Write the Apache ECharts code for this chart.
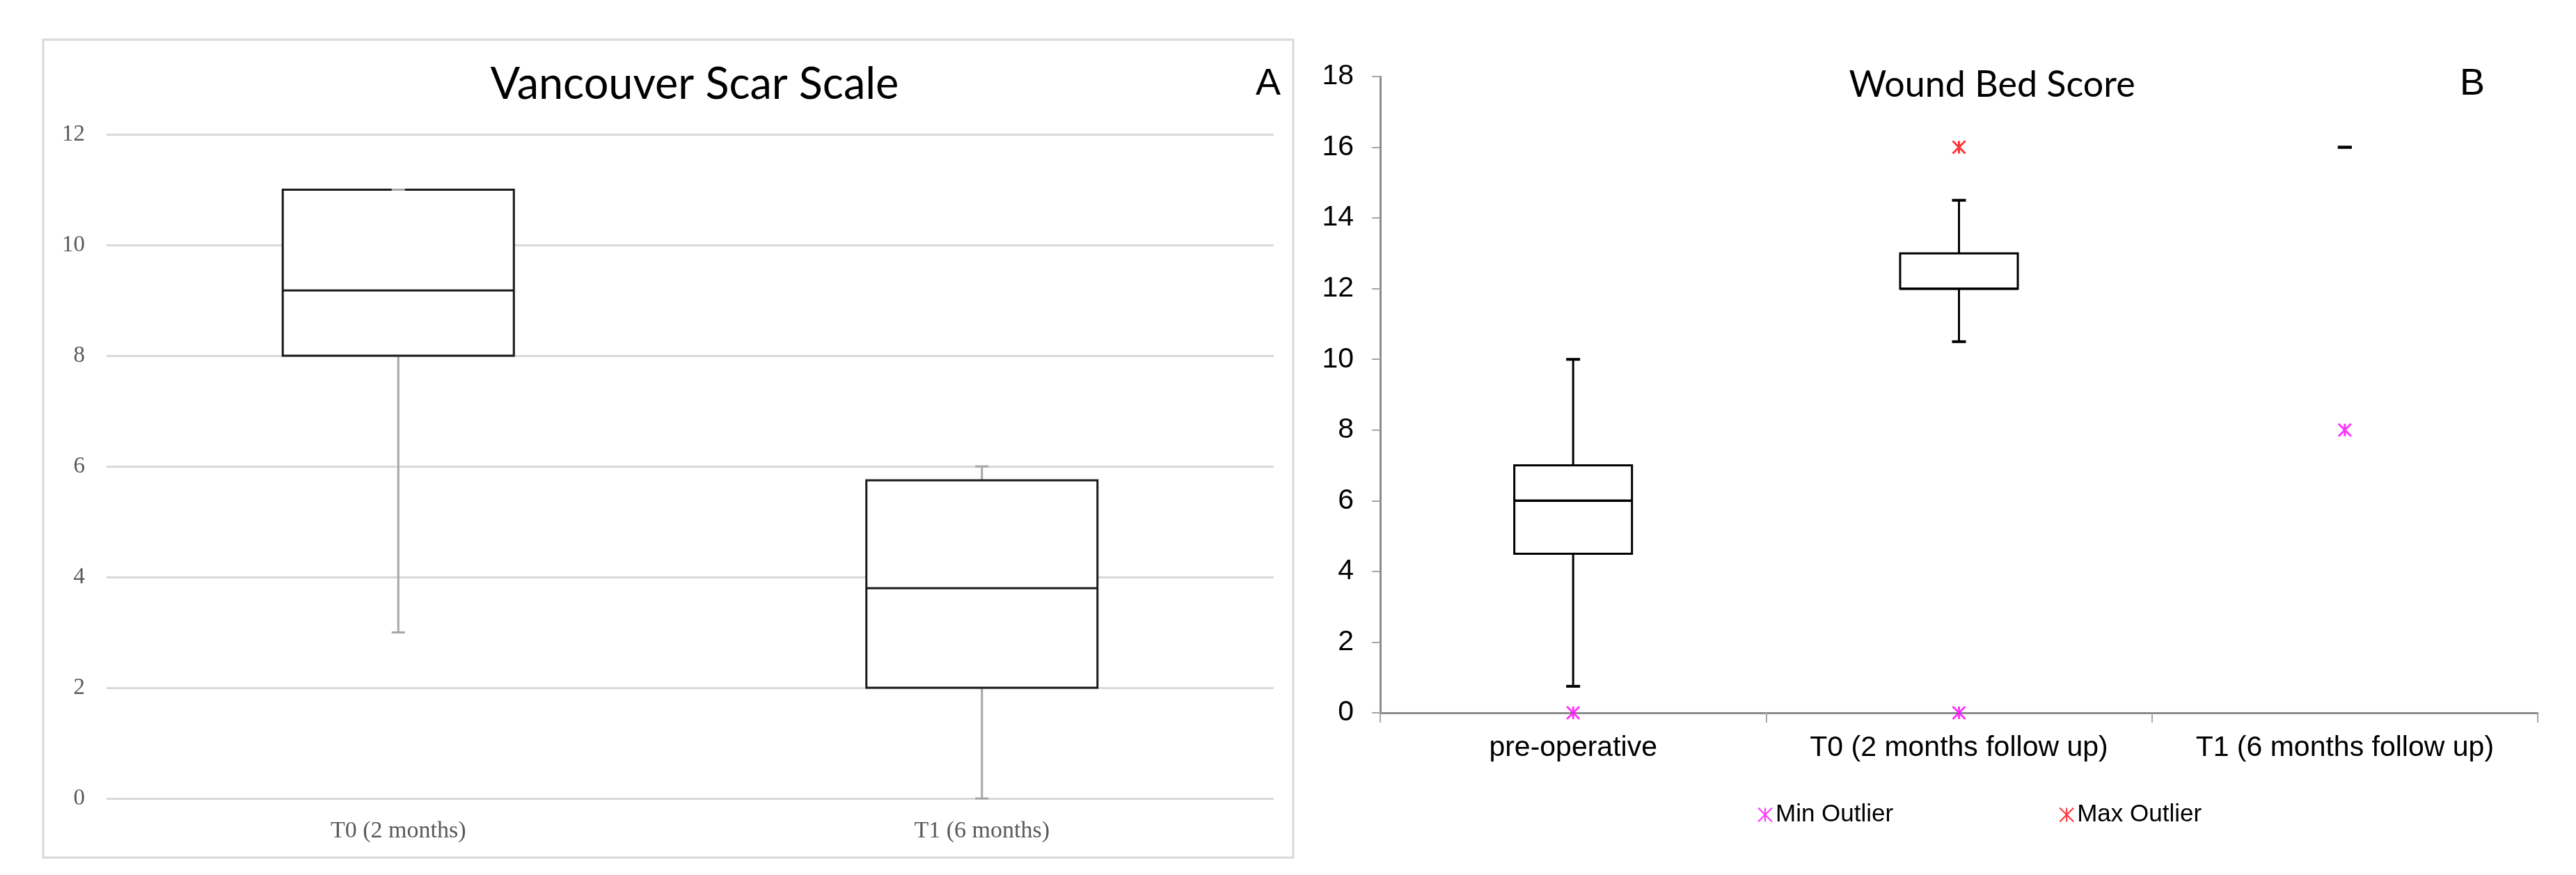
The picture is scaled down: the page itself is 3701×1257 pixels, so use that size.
<!DOCTYPE html>
<html>
<head>
<meta charset="utf-8">
<script src="https://cdn.jsdelivr.net/npm/echarts@6/dist/echarts.min.js"></script>
<style>
html,body{margin:0;padding:0;background:#ffffff;}
#chart{width:3701px;height:1257px;}
</style>
</head>
<body>
<div id="chart"></div>
<script>
// ---------- Panel A: Vancouver Scar Scale ----------
const vssCategories = ['T0 (2 months)', 'T1 (6 months)'];
const vssMin    = [3, 0];
const vssQ1     = [8, 2];
const vssMedian = [9.18, 3.8];
const vssQ3     = [11, 5.75];
const vssMax    = [11, 6];
const vssTicks  = [0, 2, 4, 6, 8, 10, 12];

// ---------- Panel B: Wound Bed Score ----------
const wbsCategories = ['pre-operative', 'T0 (2 months follow up)', 'T1 (6 months follow up)'];
const wbsMin    = [0.75, 10.5, 16];
const wbsQ1     = [4.5, 12, 16];
const wbsMedian = [6, 12, 16];
const wbsQ3     = [7, 13, 16];
const wbsMax    = [10, 14.5, 16];
const wbsMinOutlier = [0, 0, 8];
const wbsMaxOutlier = [null, 16, null];
const wbsTicks  = [0, 2, 4, 6, 8, 10, 12, 14, 16, 18];

function boxRows(mins, q1, med, q3, maxs) {
  return mins.map((v, i) => [i, v, q1[i], med[i], q3[i], maxs[i]]);
}
function pairs(cats, vals) {
  const out = [];
  vals.forEach((v, i) => { if (v !== null) out.push([cats[i], v]); });
  return out;
}

function boxRenderer(cfg) {
  return function (params, api) {
    const idx = api.value(0);
    const band = api.size([1, 0])[0];
    const half = band * cfg.boxRatio / 2;
    const capHalf = cfg.capWidth / 2;
    const pMin = api.coord([idx, api.value(1)]);
    const pQ1 = api.coord([idx, api.value(2)]);
    const pMed = api.coord([idx, api.value(3)]);
    const pQ3 = api.coord([idx, api.value(4)]);
    const pMax = api.coord([idx, api.value(5)]);
    const cx = pMin[0];
    const wStyle = { stroke: cfg.whiskerColor, lineWidth: cfg.lineWidth };
    const children = [
      { type: 'line', shape: { x1: cx, y1: pQ1[1], x2: cx, y2: pMin[1] }, style: wStyle },
      { type: 'line', shape: { x1: cx, y1: pQ3[1], x2: cx, y2: pMax[1] }, style: wStyle }
    ];
    if (pQ1[1] - pQ3[1] > 0.5) {
      children.push({ type: 'rect',
        shape: { x: cx - half, y: pQ3[1], width: 2 * half, height: pQ1[1] - pQ3[1] },
        style: { stroke: cfg.boxColor, lineWidth: cfg.lineWidth, fill: '#ffffff' } });
      children.push({ type: 'line',
        shape: { x1: cx - half, y1: pMed[1], x2: cx + half, y2: pMed[1] },
        style: { stroke: cfg.boxColor, lineWidth: cfg.medianWidth } });
    }
    children.push({ type: 'line', shape: { x1: cx - capHalf, y1: pMin[1], x2: cx + capHalf, y2: pMin[1] }, style: { stroke: cfg.capColor, lineWidth: cfg.capLineWidth } });
    children.push({ type: 'line', shape: { x1: cx - capHalf, y1: pMax[1], x2: cx + capHalf, y2: pMax[1] }, style: { stroke: cfg.capColor, lineWidth: cfg.capLineWidth } });
    return { type: 'group', children: children };
  };
}

const starPath = 'path://M0,0L10,10M10,0L0,10M5,0L5,10';

const chart = echarts.init(document.getElementById('chart'), null, { renderer: 'canvas' });

const option = {
  backgroundColor: '#ffffff',
  animation: false,
  graphic: [
    { type: 'rect', shape: { x: 62, y: 57, width: 1796, height: 1175 },
      style: { fill: 'none', stroke: '#d9d9d9', lineWidth: 3 }, silent: true },
    { type: 'text', x: 998, y: 122,
      style: { text: 'Vancouver Scar Scale', fontFamily: 'Lato', fontSize: 63, fill: '#000000',
               textAlign: 'center', textVerticalAlign: 'middle' } },
    { type: 'text', x: 1822, y: 121,
      style: { text: 'A', fontFamily: 'Liberation Sans', fontSize: 54, fill: '#000000',
               textAlign: 'center', textVerticalAlign: 'middle' } },
    { type: 'text', x: 2862, y: 122,
      style: { text: 'Wound Bed Score', fontFamily: 'Lato', fontSize: 52, fill: '#000000',
               textAlign: 'center', textVerticalAlign: 'middle' } },
    { type: 'text', x: 3552, y: 121,
      style: { text: 'B', fontFamily: 'Liberation Sans', fontSize: 54, fill: '#000000',
               textAlign: 'center', textVerticalAlign: 'middle' } }
  ],
  legend: {
    left: 2520, top: 1148,
    itemWidth: 20, itemHeight: 20, itemGap: 238,
    icon: starPath,
    textStyle: { fontFamily: 'Liberation Sans', fontSize: 35, color: '#000000' },
    data: ['Min Outlier', 'Max Outlier']
  },
  grid: [
    { left: 153, right: 3701 - 1830, top: 193, bottom: 1257 - 1147 },
    { left: 1983, right: 3701 - 3646, top: 110, bottom: 1257 - 1024 }
  ],
  xAxis: [
    { type: 'category', gridIndex: 0, data: vssCategories,
      axisLine: { show: false }, axisTick: { show: false },
      axisLabel: { interval: 0, fontFamily: 'Liberation Serif', fontSize: 34, color: '#595959', margin: 30 } },
    { type: 'category', gridIndex: 1, data: wbsCategories,
      axisLine: { show: true, lineStyle: { color: '#8c8c8c', width: 3 } },
      axisTick: { show: true, length: 14, lineStyle: { color: '#a6a6a6', width: 2 } },
      axisLabel: { interval: 0, fontFamily: 'Liberation Sans', fontSize: 41, color: '#000000', margin: 30 } }
  ],
  yAxis: [
    { type: 'value', gridIndex: 0,
      min: vssTicks[0], max: vssTicks[vssTicks.length - 1], interval: vssTicks[1] - vssTicks[0],
      axisLine: { show: false }, axisTick: { show: false },
      axisLabel: { fontFamily: 'Liberation Serif', fontSize: 33, color: '#595959', margin: 31 },
      splitLine: { show: true, lineStyle: { color: '#d9d9d9', width: 3 } } },
    { type: 'value', gridIndex: 1,
      min: wbsTicks[0], max: wbsTicks[wbsTicks.length - 1], interval: wbsTicks[1] - wbsTicks[0],
      axisLine: { show: true, lineStyle: { color: '#8c8c8c', width: 3 } },
      axisTick: { show: true, length: 12, lineStyle: { color: '#a6a6a6', width: 2 } },
      axisLabel: { fontFamily: 'Liberation Sans', fontSize: 41, color: '#000000', margin: 38 },
      splitLine: { show: false } }
  ],
  series: [
    { type: 'custom', name: 'VSS', xAxisIndex: 0, yAxisIndex: 0,
      data: boxRows(vssMin, vssQ1, vssMedian, vssQ3, vssMax),
      encode: { x: 0, y: [1, 2, 3, 4, 5] },
      renderItem: boxRenderer({ boxRatio: 0.396, capWidth: 19, lineWidth: 3, medianWidth: 3,
        boxColor: '#1a1a1a', whiskerColor: '#a6a6a6', capColor: '#a6a6a6', capLineWidth: 3 }) },
    { type: 'custom', name: 'WBS', xAxisIndex: 1, yAxisIndex: 1,
      data: boxRows(wbsMin, wbsQ1, wbsMedian, wbsQ3, wbsMax),
      encode: { x: 0, y: [1, 2, 3, 4, 5] },
      renderItem: boxRenderer({ boxRatio: 0.305, capWidth: 20, lineWidth: 3, medianWidth: 3.5,
        boxColor: '#000000', whiskerColor: '#000000', capColor: '#000000', capLineWidth: 4 }) },
    { type: 'scatter', name: 'Min Outlier', xAxisIndex: 1, yAxisIndex: 1,
      data: pairs(wbsCategories, wbsMinOutlier),
      symbol: starPath, symbolSize: 18, z: 5,
      itemStyle: { color: 'rgba(0,0,0,0)', borderColor: '#ff00ff', borderWidth: 3 } },
    { type: 'scatter', name: 'Max Outlier', xAxisIndex: 1, yAxisIndex: 1,
      data: pairs(wbsCategories, wbsMaxOutlier),
      symbol: starPath, symbolSize: 18, z: 5,
      itemStyle: { color: 'rgba(0,0,0,0)', borderColor: '#ff0000', borderWidth: 3 } }
  ]
};
chart.setOption(option);
</script>
</body>
</html>
